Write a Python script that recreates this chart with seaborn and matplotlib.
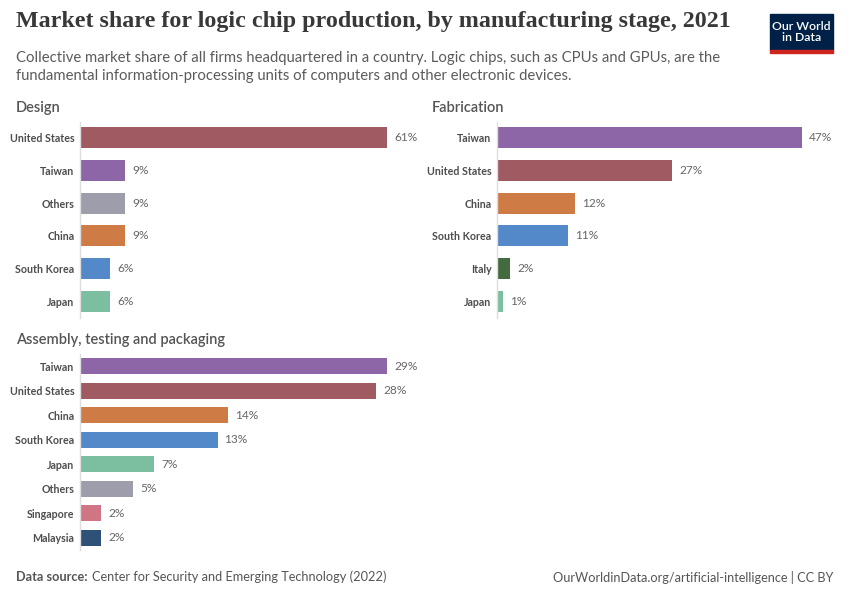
import matplotlib
matplotlib.use("Agg")
import matplotlib.pyplot as plt
import matplotlib.patches as mpatches
import seaborn as sns
import pandas as pd

# ---------------- data ----------------
design_countries = ["United States", "Taiwan", "Others", "China", "South Korea", "Japan"]
design_values = [61, 9, 9, 9, 6, 6]

fab_countries = ["Taiwan", "United States", "China", "South Korea", "Italy", "Japan"]
fab_values = [47, 27, 12, 11, 2, 1]

atp_countries = ["Taiwan", "United States", "China", "South Korea", "Japan", "Others", "Singapore", "Malaysia"]
atp_values = [29, 28, 14, 13, 7, 5, 2, 2]

colors = {
    "United States": "#a05a62",
    "Taiwan": "#8c66a6",
    "Others": "#9e9dab",
    "China": "#cf7b46",
    "South Korea": "#5388c9",
    "Japan": "#7cbfa0",
    "Italy": "#436b3f",
    "Singapore": "#d07584",
    "Malaysia": "#2f5178",
}

title = "Market share for logic chip production, by manufacturing stage, 2021"
subtitle = ("Collective market share of all firms headquartered in a country. Logic chips, such as CPUs and GPUs, are the\n"
            "fundamental information-processing units of computers and other electronic devices.")

sns.set_theme(style="white")
plt.rcParams["font.family"] = ["Lato", "DejaVu Sans"]

W, H = 850, 600
fig = plt.figure(figsize=(W / 100, H / 100), dpi=100)
fig.patch.set_facecolor("white")


def px_axes(x0, y0, x1, y1):
    return fig.add_axes([x0 / W, 1 - y1 / H, (x1 - x0) / W, (y1 - y0) / H])


def panel(ax, countries, values, xmax, label, lx, ly):
    df = pd.DataFrame({"country": countries, "value": values})
    sns.barplot(data=df, y="country", x="value", hue="country", palette=colors,
                dodge=False, legend=False, width=0.65, ax=ax, orient="h",
                saturation=1, linewidth=0)
    ax.set_xlim(0, xmax)
    ax.set_ylim(len(countries) - 0.5, -0.5)
    ax.set_xlabel("")
    ax.set_ylabel("")
    ax.set_xticks([])
    for s in ["top", "right", "bottom"]:
        ax.spines[s].set_visible(False)
    ax.spines["left"].set_color("#dddddd")
    ax.spines["left"].set_linewidth(1)
    ax.tick_params(axis="y", length=0, pad=4, labelsize=7.7, labelcolor="#4d4d4d")
    for t in ax.get_yticklabels():
        t.set_fontweight("bold")
    ax.set_facecolor("none")
    for c in ax.containers:
        ax.bar_label(c, labels=[f"{v:g}%" for v in c.datavalues], padding=5,
                     fontsize=8.6, color="#666666", clip_on=False)
    fig.text(lx / W, 1 - ly / H, label, fontsize=10.5, color="#555555",
             fontweight="semibold", va="center", ha="left")


ax1 = px_axes(80, 121.5, 387, 317.5)
panel(ax1, design_countries, design_values, 61, "Design", 16, 108)

ax2 = px_axes(497, 121.5, 802, 317.5)
panel(ax2, fab_countries, fab_values, 47, "Fabrication", 432, 108)

ax3 = px_axes(80, 354, 387, 550)
panel(ax3, atp_countries, atp_values, 29, "Assembly, testing and packaging", 16, 340)

# title / subtitle
fig.text(16 / W, 1 - 22 / H, title, fontsize=17.25, fontweight="bold",
         family=["Liberation Serif", "DejaVu Serif"], color="#383838", va="center", ha="left")
fig.text(16 / W, 1 - 67 / H, subtitle, fontsize=10.7, color="#5b5b5b",
         va="center", ha="left", linespacing=1.4)

# logo
fig.patches.append(mpatches.Rectangle((770 / W, 1 - 50 / H), 63 / W, 36 / H,
                                      transform=fig.transFigure, color="#002147"))
fig.patches.append(mpatches.Rectangle((770 / W, 1 - 53 / H), 63 / W, 3 / H,
                                      transform=fig.transFigure, color="#ce261e"))
fig.text(801.5 / W, 1 - 32 / H, "Our World\nin Data", fontsize=8.8, color="white",
         fontweight="semibold", ha="center", va="center", linespacing=1.0)

# footer
fig.text(16 / W, 1 - 577 / H, "Data source:", fontsize=9.2, color="#555555",
         fontweight="bold", ha="left", va="center")
fig.text(91.5 / W, 1 - 577 / H, "Center for Security and Emerging Technology (2022)",
         fontsize=9.2, color="#555555", ha="left", va="center")
fig.text(833 / W, 1 - 577 / H, "OurWorldinData.org/artificial-intelligence | CC BY",
         fontsize=9.2, color="#555555", ha="right", va="center")

fig.savefig("out.png", dpi=100, facecolor="white")
